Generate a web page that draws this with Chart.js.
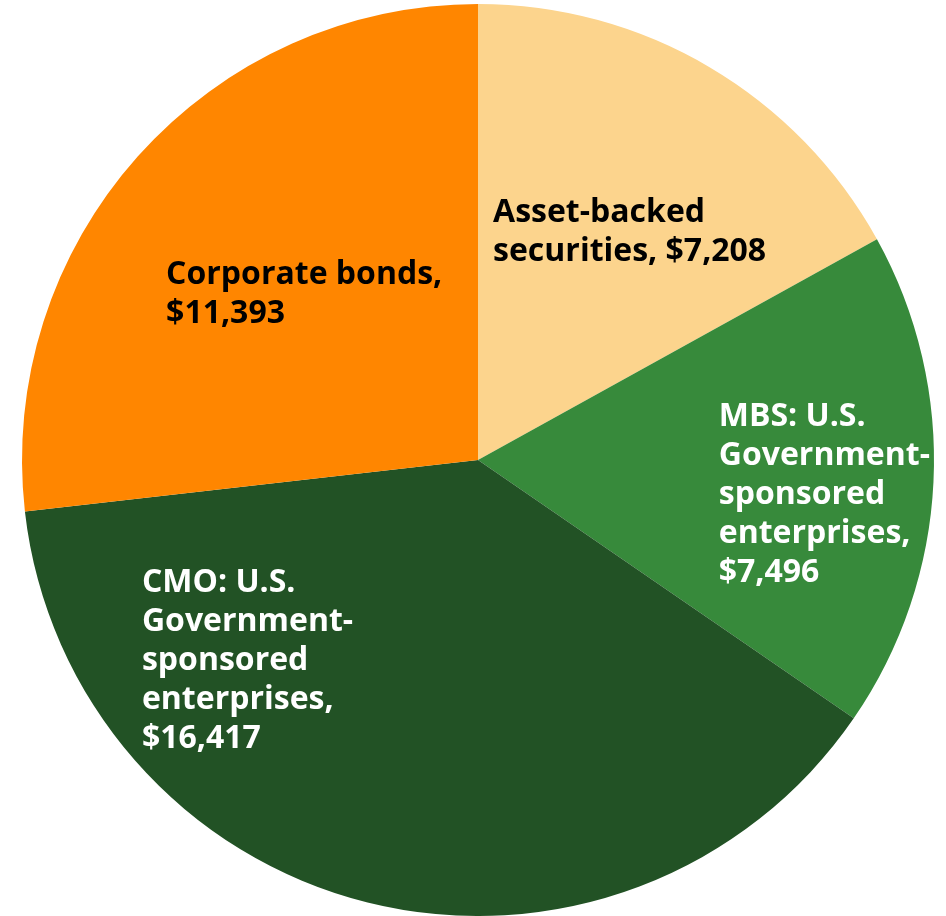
<!DOCTYPE html>
<html>
<head>
<meta charset="utf-8">
<script src="https://cdn.jsdelivr.net/npm/chart.js@4"></script>
<style>
  html, body { margin: 0; padding: 0; background: #fff; }
  #wrap { width: 946px; height: 916px; }
</style>
</head>
<body>
<div id="wrap"><canvas id="pie"></canvas></div>
<script>
// data
const categories = [
  'Asset-backed securities',
  'MBS: U.S. Government-sponsored enterprises',
  'CMO: U.S. Government-sponsored enterprises',
  'Corporate bonds'
];
const values = [7208, 7496, 16417, 11393];
const labelLines = [
  ['Asset-backed', 'securities, $7,208'],
  ['MBS: U.S.', 'Government-', 'sponsored', 'enterprises,', '$7,496'],
  ['CMO: U.S.', 'Government-', 'sponsored', 'enterprises,', '$16,417'],
  ['Corporate bonds,', '$11,393']
];

const colors = ['#fcd48d', '#378a3b', '#225225', '#ff8600'];
const textColors = ['#000', '#fff', '#fff', '#000'];
// where each label block starts, as a fraction of the radius from the centre
const labelSpot = [[0.033, -0.542], [0.528, -0.094], [-0.737, 0.27], [-0.684, -0.406]];

const sliceLabels = {
  id: 'sliceLabels',
  afterDatasetsDraw(chart) {
    const c = chart.ctx;
    const arcs = chart.getDatasetMeta(0).data;
    c.save();
    c.font = '700 32px "Open Sans"';
    c.textAlign = 'left';
    c.textBaseline = 'middle';
    arcs.forEach((arc, i) => {
      const r = arc.outerRadius;
      const x = arc.x + labelSpot[i][0] * r;
      let y = arc.y + labelSpot[i][1] * r;
      c.fillStyle = textColors[i];
      labelLines[i].forEach(line => {
        c.fillText(line, x, y);
        y += 39;
      });
    });
    c.restore();
  }
};

const pie = new Chart(document.getElementById('pie').getContext('2d'), {
  type: 'pie',
  data: {
    labels: categories,
    datasets: [{
      data: values,
      backgroundColor: colors,
      borderWidth: 0
    }]
  },
  options: {
    responsive: true,
    maintainAspectRatio: false,
    animation: false,
    layout: { padding: { left: 22, right: 12, top: 4, bottom: 0 } },
    plugins: {
      legend: { display: false },
      tooltip: { enabled: false }
    }
  },
  plugins: [sliceLabels]
});
</script>
</body>
</html>
